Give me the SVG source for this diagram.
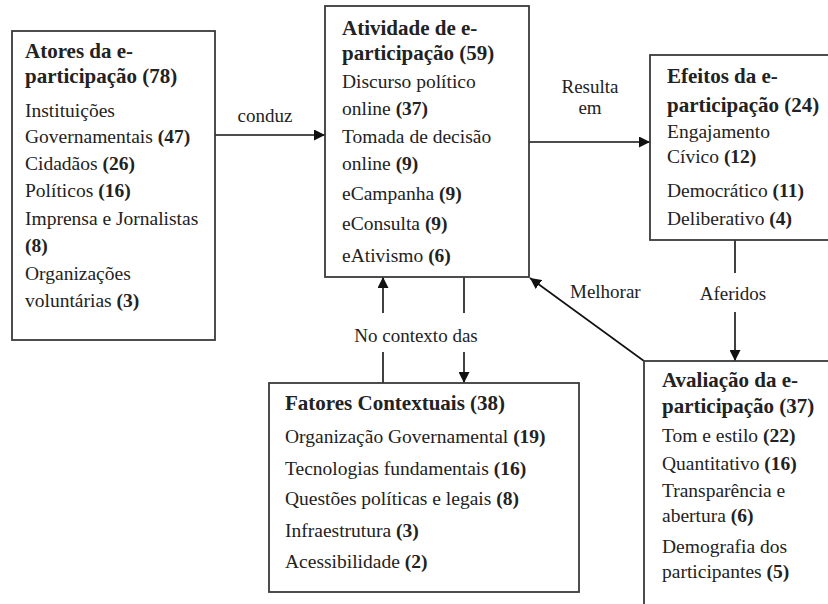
<svg xmlns="http://www.w3.org/2000/svg" width="828" height="604" viewBox="0 0 828 604">
<defs>
<marker id="arr" viewBox="0 0 10 10" refX="10" refY="5" markerWidth="11" markerHeight="11" markerUnits="userSpaceOnUse" orient="auto">
<path d="M0,0 L10,5 L0,10 z" fill="#111"/>
</marker>
<style>
.box{fill:#fff;stroke:#3a3a3a;stroke-width:1.8}
text{fill:#222;font-family:'Liberation Serif','Times New Roman',Tinos,'DejaVu Serif',serif}
.t{font-size:21px;font-weight:bold}
.i{font-size:19.5px}
.b{font-weight:bold}
.lbl{font-size:19px}
.c{stroke:#111;stroke-width:1.6;fill:none}
</style>
</defs>
<rect width="828" height="604" fill="#fff"/>
<g id="connectors">
<line class="c" x1="215" y1="135" x2="325" y2="135" marker-end="url(#arr)"/>
<line class="c" x1="529" y1="142" x2="650" y2="142" marker-end="url(#arr)"/>
<line class="c" x1="735" y1="240" x2="735" y2="273"/>
<line class="c" x1="735" y1="312" x2="735" y2="361" marker-end="url(#arr)"/>
<line class="c" x1="644" y1="361" x2="530" y2="278" marker-end="url(#arr)"/>
<line class="c" x1="383" y1="383" x2="383" y2="352"/>
<line class="c" x1="383" y1="313" x2="383" y2="277" marker-end="url(#arr)"/>
<line class="c" x1="464" y1="277" x2="464" y2="313"/>
<line class="c" x1="464" y1="352" x2="464" y2="383" marker-end="url(#arr)"/>
<text class="lbl" x="265" y="122" text-anchor="middle">conduz</text>
<text class="lbl" x="590" y="93" text-anchor="middle">Resulta</text>
<text class="lbl" x="590" y="114" text-anchor="middle">em</text>
<text class="lbl" x="733" y="300" text-anchor="middle">Aferidos</text>
<text class="lbl" x="570" y="298">Melhorar</text>
<text class="lbl" x="416" y="342" text-anchor="middle">No contexto das</text>
</g>

<g id="atores">
<rect class="box" x="12" y="31" width="203" height="309"/>
<text class="t" x="25" y="58">Atores da e-</text>
<text class="t" x="25" y="83">participação (78)</text>
<text class="i" x="25" y="117">Instituições</text>
<text class="i" x="25" y="143">Governamentais <tspan class="b">(47)</tspan></text>
<text class="i" x="25" y="170">Cidadãos <tspan class="b">(26)</tspan></text>
<text class="i" x="25" y="197">Políticos <tspan class="b">(16)</tspan></text>
<text class="i" x="25" y="225">Imprensa e Jornalistas</text>
<text class="i b" x="25" y="252">(8)</text>
<text class="i" x="25" y="280">Organizações</text>
<text class="i" x="25" y="307">voluntárias <tspan class="b">(3)</tspan></text>
</g>

<g id="atividade">
<rect class="box" x="325" y="6" width="204" height="271"/>
<text class="t" x="342" y="35">Atividade de e-</text>
<text class="t" x="342" y="60">participação (59)</text>
<text class="i" x="342" y="88">Discurso político</text>
<text class="i" x="342" y="115">online <tspan class="b">(37)</tspan></text>
<text class="i" x="342" y="143">Tomada de decisão</text>
<text class="i" x="342" y="170">online <tspan class="b">(9)</tspan></text>
<text class="i" x="342" y="200">eCampanha <tspan class="b">(9)</tspan></text>
<text class="i" x="342" y="230">eConsulta <tspan class="b">(9)</tspan></text>
<text class="i" x="342" y="262">eAtivismo <tspan class="b">(6)</tspan></text>
</g>

<g id="efeitos">
<rect class="box" x="650" y="55" width="200" height="185"/>
<text class="t" x="667" y="83">Efeitos da e-</text>
<text class="t" x="667" y="112">participação (24)</text>
<text class="i" x="667" y="138">Engajamento</text>
<text class="i" x="667" y="163">Cívico <tspan class="b">(12)</tspan></text>
<text class="i" x="667" y="197">Democrático <tspan class="b">(11)</tspan></text>
<text class="i" x="667" y="225">Deliberativo <tspan class="b">(4)</tspan></text>
</g>

<g id="fatores">
<rect class="box" x="269" y="383" width="310" height="209"/>
<text class="t" x="285" y="410">Fatores Contextuais (38)</text>
<text class="i" x="285" y="443">Organização Governamental <tspan class="b">(19)</tspan></text>
<text class="i" x="285" y="475">Tecnologias fundamentais <tspan class="b">(16)</tspan></text>
<text class="i" x="285" y="505">Questões políticas e legais <tspan class="b">(8)</tspan></text>
<text class="i" x="285" y="537">Infraestrutura <tspan class="b">(3)</tspan></text>
<text class="i" x="285" y="568">Acessibilidade <tspan class="b">(2)</tspan></text>
</g>

<g id="avaliacao">
<rect class="box" x="644" y="361" width="200" height="260"/>
<text class="t" x="662" y="387">Avaliação da e-</text>
<text class="t" x="662" y="413">participação (37)</text>
<text class="i" x="662" y="442">Tom e estilo <tspan class="b">(22)</tspan></text>
<text class="i" x="662" y="470">Quantitativo <tspan class="b">(16)</tspan></text>
<text class="i" x="662" y="497">Transparência e</text>
<text class="i" x="662" y="522">abertura <tspan class="b">(6)</tspan></text>
<text class="i" x="662" y="553">Demografia dos</text>
<text class="i" x="662" y="578">participantes <tspan class="b">(5)</tspan></text>
</g>
</svg>
